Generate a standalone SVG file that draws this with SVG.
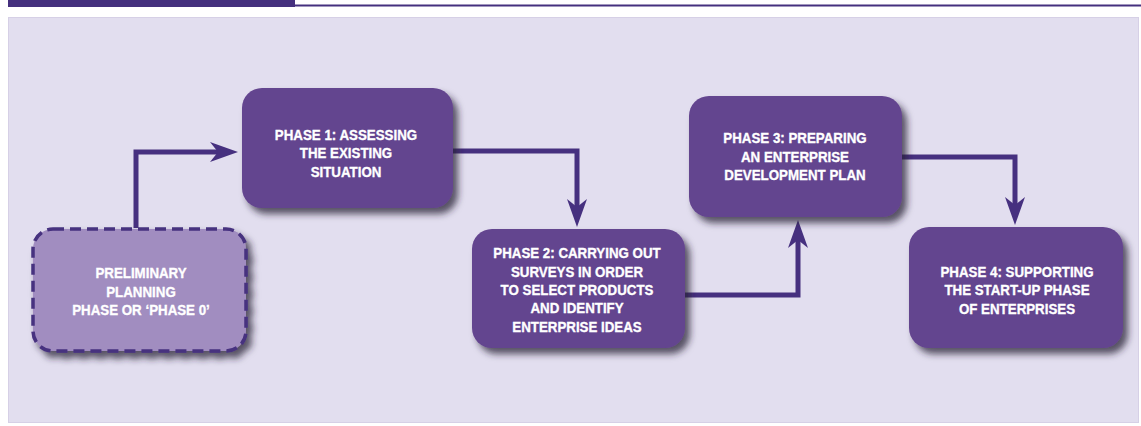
<svg xmlns="http://www.w3.org/2000/svg" width="1141" height="426" viewBox="0 0 1141 426">
  <defs>
    <filter id="shadow" x="-10%" y="-10%" width="130%" height="140%">
      <feDropShadow dx="5" dy="6" stdDeviation="3.5" flood-color="#2a2238" flood-opacity="0.75"/>
    </filter>
    <marker id="arrow" markerUnits="userSpaceOnUse" markerWidth="30" markerHeight="24" viewBox="0 -12 30 24" refX="8" refY="0" orient="auto">
      <path d="M0,-10 L28,0 L0,10 L8,0 Z" fill="#46307f"/>
    </marker>
    <style>
      .node { fill: #64448f; filter: url(#shadow); }
      .prelim { fill: #a18dc0; stroke: #46307f; stroke-width: 3.5; stroke-dasharray: 11 6; filter: url(#shadow); }
      .label { font-family: "Liberation Sans", Arial, sans-serif; font-weight: bold; font-size: 15.5px; fill: #ffffff; stroke: #ffffff; stroke-width: 0.35; text-anchor: middle; }
      .conn { fill: none; stroke: #46307f; stroke-width: 5; marker-end: url(#arrow); }
    </style>
  </defs>

  <!-- header band and rule -->
  <rect x="8" y="0" width="287" height="7" fill="#45307e"/>
  <rect x="295" y="4.5" width="846" height="2" fill="#45307e"/>

  <!-- panel -->
  <rect x="8.5" y="17.5" width="1130" height="405" fill="#e2deef" stroke="#d6d0e6" stroke-width="1"/>

  <!-- connectors -->
  <g id="connectors">
    <path class="conn" d="M136,228 V152 H218"/>
    <path class="conn" d="M453,151 H577 V207"/>
    <path class="conn" d="M685,295 H798 V240"/>
    <path class="conn" d="M902,157 H1015 V205"/>
  </g>

  <g id="phase0">
    <rect class="prelim" x="33" y="229" width="213" height="122" rx="20"/>
    <g transform="translate(141,0) scale(0.86,1)">
      <text class="label" x="0" y="278">PRELIMINARY</text>
      <text class="label" x="0" y="297">PLANNING</text>
      <text class="label" x="0" y="315">PHASE OR ‘PHASE 0’</text>
    </g>
  </g>

  <g id="phase1">
    <rect class="node" x="242" y="88" width="211" height="120" rx="20"/>
    <g transform="translate(346,0) scale(0.86,1)">
      <text class="label" x="0" y="140">PHASE 1: ASSESSING</text>
      <text class="label" x="0" y="158">THE EXISTING</text>
      <text class="label" x="0" y="177">SITUATION</text>
    </g>
  </g>

  <g id="phase2">
    <rect class="node" x="472" y="229" width="213" height="119" rx="20"/>
    <g transform="translate(577,0) scale(0.86,1)">
      <text class="label" x="0" y="258">PHASE 2: CARRYING OUT</text>
      <text class="label" x="0" y="277">SURVEYS IN ORDER</text>
      <text class="label" x="0" y="295">TO SELECT PRODUCTS</text>
      <text class="label" x="0" y="313">AND IDENTIFY</text>
      <text class="label" x="0" y="332">ENTERPRISE IDEAS</text>
    </g>
  </g>

  <g id="phase3">
    <rect class="node" x="689" y="96" width="213" height="121" rx="20"/>
    <g transform="translate(795,0) scale(0.86,1)">
      <text class="label" x="0" y="143">PHASE 3: PREPARING</text>
      <text class="label" x="0" y="162">AN ENTERPRISE</text>
      <text class="label" x="0" y="180">DEVELOPMENT PLAN</text>
    </g>
  </g>

  <g id="phase4">
    <rect class="node" x="909" y="227" width="214" height="121" rx="20"/>
    <g transform="translate(1017,0) scale(0.86,1)">
      <text class="label" x="0" y="277">PHASE 4: SUPPORTING</text>
      <text class="label" x="0" y="295">THE START-UP PHASE</text>
      <text class="label" x="0" y="314">OF ENTERPRISES</text>
    </g>
  </g>
</svg>
